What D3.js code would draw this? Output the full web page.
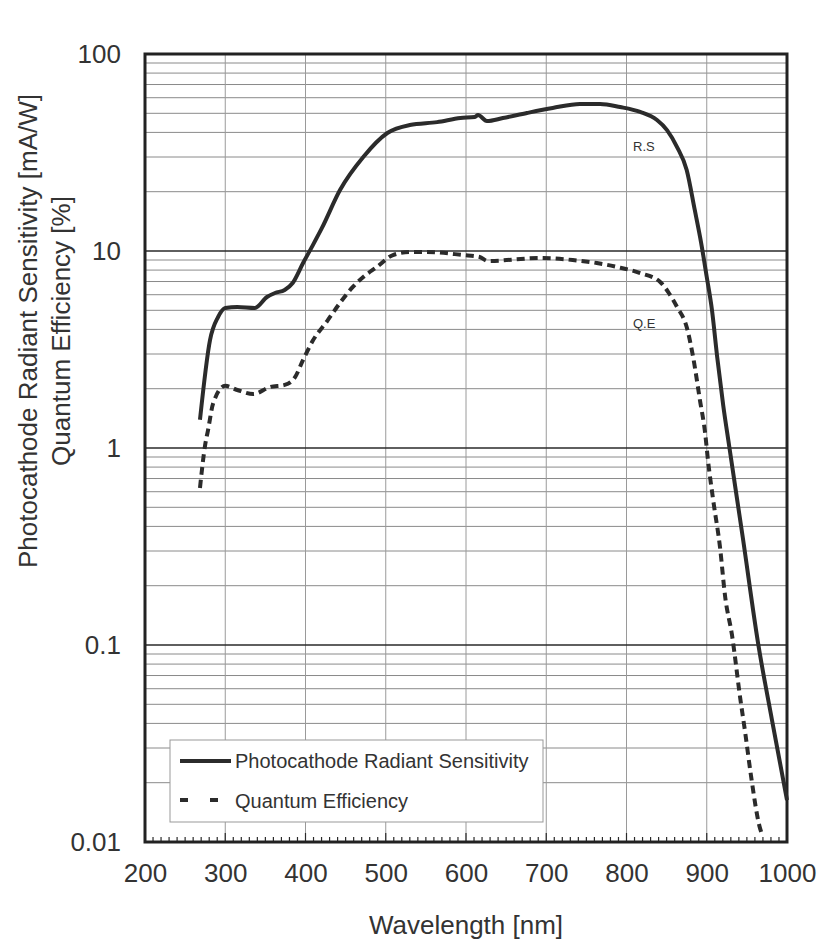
<!DOCTYPE html>
<html>
<head>
<meta charset="utf-8">
<script src="https://cdn.jsdelivr.net/npm/d3@7"></script>
<style>
  body { margin: 0; background: #fff; }
  text { font-family: "Liberation Sans", Arial, sans-serif; fill: #333; }
</style>
</head>
<body>
<svg id="chart" width="819" height="943"></svg>
<script>
// Photocathode radiant sensitivity [mA/W] vs wavelength [nm]
const rsWavelength = [268.5, 281, 291, 300, 315, 337, 352, 362, 374, 384, 397, 408, 420.5,
  443, 472, 502, 530, 564, 593, 611, 615, 626, 646, 676, 708, 742, 767, 792, 817, 838, 850.5,
  863, 875, 885, 893, 900, 906.5, 913, 920.5, 928, 945, 964, 981.3, 1000];
const rsValue = [1.39, 3.53, 4.62, 5.14, 5.2, 5.14, 5.84, 6.12, 6.34, 6.88, 8.69, 10.5, 13.1,
  20.4, 30.0, 39.7, 43.6, 45.1, 47.3, 47.9, 49.0, 45.7, 47.3, 50.2, 53.2, 55.8, 55.8, 53.8, 50.8, 46.2, 41.1,
  33.7, 25.8, 16.2, 11.0, 7.38, 5.02, 2.9, 1.65, 1.02, 0.349, 0.102, 0.0416, 0.0163];

// Quantum efficiency [%] vs wavelength [nm]
const qeWavelength = [268.5, 275, 278.5, 285, 300, 315, 335, 356, 374, 387, 397, 409, 427, 443,
  459, 472, 489, 509, 530, 551, 596, 617, 627, 692, 733, 763, 788, 817, 842, 852, 863, 875, 883,
  891.5, 898, 901.5, 908, 916.5, 923, 931.5, 941.5, 948, 955, 966, 969];
const qeValue = [0.627, 1.04, 1.23, 1.69, 2.07, 1.97, 1.88, 2.04, 2.09, 2.29, 2.8, 3.5, 4.41, 5.45,
  6.57, 7.38, 8.3, 9.54, 9.89, 9.89, 9.54, 9.32, 8.9, 9.21, 9.0, 8.69, 8.3, 7.73, 6.96, 6.19, 5.2, 4.11, 2.9,
  1.75, 1.19, 0.869, 0.545, 0.314, 0.175, 0.112, 0.0545, 0.0357, 0.0219, 0.0119, 0.0109];

const xTickValues = [200, 300, 400, 500, 600, 700, 800, 900, 1000];
const yTickValues = [0.01, 0.1, 1, 10, 100];
const yTickLabels = ["0.01", "0.1", "1", "10", "100"];
const seriesNames = ["Photocathode Radiant Sensitivity", "Quantum Efficiency"];
const xTitle = "Wavelength [nm]";
const yTitleLines = ["Photocathode Radiant Sensitivity [mA/W]", "Quantum Efficiency [%]"];
const curveLabels = ["R.S", "Q.E"];

const svg = d3.select("#chart");
const plot = { left: 145, right: 787, top: 54, bottom: 842 };

const x = d3.scaleLinear().domain([200, 1000]).range([plot.left, plot.right]);
const y = d3.scaleLog().domain([0.01, 100]).range([plot.bottom, plot.top]);

svg.append("rect").attr("width", 819).attr("height", 943).attr("fill", "#fff");

// minor horizontal grid (2..9 within each decade)
const minorY = [];
[0.01, 0.1, 1, 10].forEach(d => { for (let m = 2; m <= 9; m++) minorY.push(d * m); });
svg.append("g").selectAll("line").data(minorY).join("line")
  .attr("x1", plot.left).attr("x2", plot.right)
  .attr("y1", d => y(d)).attr("y2", d => y(d))
  .attr("stroke", "#8a8a8a").attr("stroke-width", 1);

// vertical grid every 100 nm
svg.append("g").selectAll("line").data(xTickValues.slice(1, -1)).join("line")
  .attr("x1", d => x(d)).attr("x2", d => x(d))
  .attr("y1", plot.top).attr("y2", plot.bottom)
  .attr("stroke", "#9a9a9a").attr("stroke-width", 1);

// decade lines
svg.append("g").selectAll("line").data(yTickValues.slice(1, -1)).join("line")
  .attr("x1", plot.left).attr("x2", plot.right)
  .attr("y1", d => y(d)).attr("y2", d => y(d))
  .attr("stroke", "#2a2a2a").attr("stroke-width", 1.5);

// minor ticks along the wavelength axis (10 nm)
const minorX = d3.range(210, 1000, 10);
svg.append("g").selectAll("line").data(minorX).join("line")
  .attr("x1", d => x(d)).attr("x2", d => x(d))
  .attr("y1", plot.bottom).attr("y2", d => plot.bottom - (d % 100 === 0 ? 9 : 5))
  .attr("stroke", "#2a2a2a").attr("stroke-width", 1.2);

// frame
svg.append("rect")
  .attr("x", plot.left).attr("y", plot.top)
  .attr("width", plot.right - plot.left).attr("height", plot.bottom - plot.top)
  .attr("fill", "none").attr("stroke", "#222").attr("stroke-width", 3);

// tick labels
const xAxis = d3.axisBottom(x).tickValues(xTickValues).tickSize(0).tickPadding(0).tickFormat(d3.format("d"));
const gx = svg.append("g").attr("transform", `translate(0,${plot.bottom + 40})`).call(xAxis);
gx.select(".domain").remove();
gx.selectAll("text").attr("font-size", 26).attr("fill", "#333")
  .attr("font-family", "Liberation Sans, Arial, sans-serif").attr("dy", "0");

const yAxis = d3.axisLeft(y).tickValues(yTickValues).tickSize(0).tickPadding(0)
  .tickFormat((d, i) => yTickLabels[i]);
const gy = svg.append("g").attr("transform", `translate(${plot.left - 24},0)`).call(yAxis);
gy.select(".domain").remove();
gy.selectAll("text").attr("font-size", 26).attr("fill", "#333")
  .attr("font-family", "Liberation Sans, Arial, sans-serif");

// axis titles
svg.append("text").attr("x", 466).attr("y", 934).attr("text-anchor", "middle")
  .attr("font-size", 26).text(xTitle);
yTitleLines.forEach((t, i) => {
  svg.append("text")
    .attr("transform", `translate(${28 + i * 33},331) rotate(-90)`)
    .attr("text-anchor", "middle").attr("dominant-baseline", "central")
    .attr("font-size", 26).text(t);
});

// legend
const legend = svg.append("g");
legend.append("rect").attr("x", 170).attr("y", 740).attr("width", 373).attr("height", 82)
  .attr("fill", "#fff").attr("stroke", "#999").attr("stroke-width", 1);
legend.append("line").attr("x1", 180).attr("x2", 231).attr("y1", 761).attr("y2", 761)
  .attr("stroke", "#2b2b2b").attr("stroke-width", 4);
legend.append("line").attr("x1", 180).attr("x2", 220).attr("y1", 800).attr("y2", 800)
  .attr("stroke", "#2b2b2b").attr("stroke-width", 4).attr("stroke-dasharray", "8,22");
legend.append("text").attr("x", 235).attr("y", 768).attr("font-size", 20).text(seriesNames[0]);
legend.append("text").attr("x", 235).attr("y", 808).attr("font-size", 20).text(seriesNames[1]);

// curves
const line = d3.line().x(d => x(d[0])).y(d => y(d[1])).curve(d3.curveMonotoneX);
svg.append("path").datum(d3.zip(rsWavelength, rsValue))
  .attr("d", line).attr("fill", "none").attr("stroke", "#2b2b2b").attr("stroke-width", 4)
  .attr("stroke-linejoin", "round");
svg.append("path").datum(d3.zip(qeWavelength, qeValue))
  .attr("d", line).attr("fill", "none").attr("stroke", "#2b2b2b").attr("stroke-width", 4)
  .attr("stroke-dasharray", "8,5");

// handwritten curve markers
svg.append("text").attr("x", 633).attr("y", 151).attr("font-size", 13)
  .attr("font-family", "DejaVu Sans, sans-serif").attr("fill", "#555").text(curveLabels[0]);
svg.append("text").attr("x", 633).attr("y", 328).attr("font-size", 13)
  .attr("font-family", "DejaVu Sans, sans-serif").attr("fill", "#555").text(curveLabels[1]);
</script>
</body>
</html>
